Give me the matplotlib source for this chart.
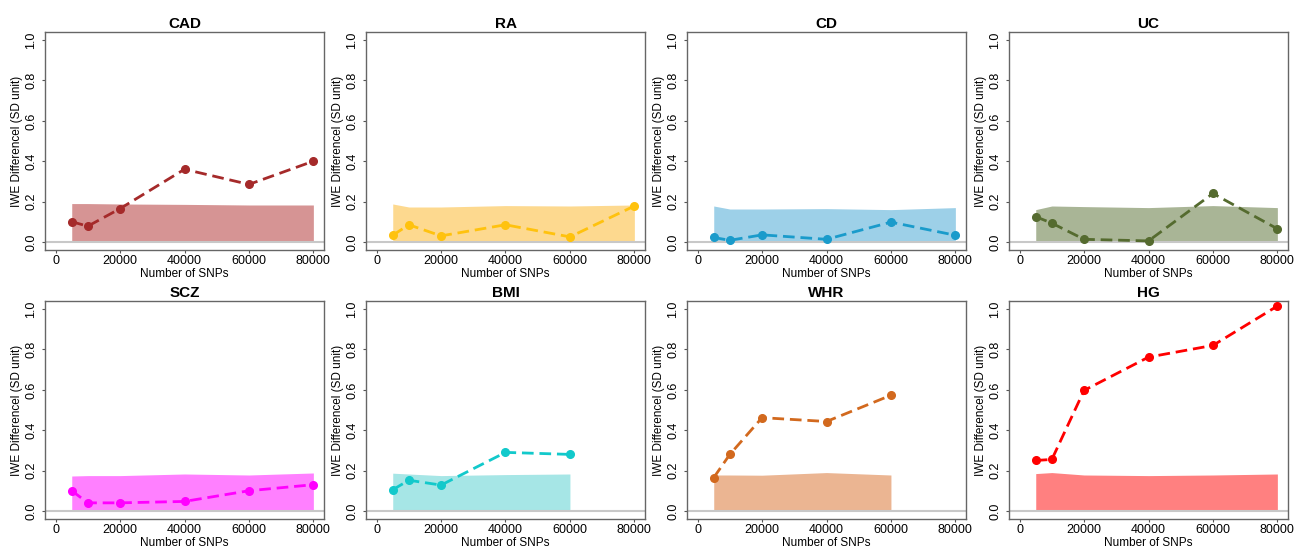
import matplotlib
matplotlib.use('Agg')
import matplotlib.pyplot as plt

plt.rcParams['font.family'] = ['Liberation Sans', 'DejaVu Sans']

# Panel names and colours (line colour, band colour)
traits = ['CAD', 'RA', 'CD', 'UC', 'SCZ', 'BMI', 'WHR', 'HG']
line_colors = ['#A52A2A', '#FFC20E', '#1A9BCB', '#556B2F',
               '#FF00FF', '#12C9CB', '#D2691E', '#FF0000']
band_colors = ['#D69494', '#FDD98F', '#9DD0E8', '#A9B596',
               '#FF80FF', '#A6E6E6', '#EBB592', '#FF8080']

snps_full = [5000, 10000, 20000, 40000, 60000, 80000]
snps_short = [5000, 10000, 20000, 40000, 60000]

# IWE difference (dashed line) per trait
cad = [0.10, 0.078, 0.165, 0.36, 0.285, 0.40]
ra = [0.033, 0.085, 0.030, 0.085, 0.025, 0.178]
cd = [0.022, 0.008, 0.035, 0.013, 0.098, 0.033]
uc = [0.125, 0.093, 0.013, 0.005, 0.24, 0.065]
scz = [0.10, 0.040, 0.040, 0.047, 0.10, 0.13]
bmi = [0.105, 0.152, 0.128, 0.29, 0.28]
whr = [0.165, 0.28, 0.462, 0.443, 0.573]
hg = [0.25, 0.255, 0.597, 0.762, 0.82, 1.015]

# Upper edge of the shaded null band per trait
cad_band = [0.190, 0.190, 0.188, 0.186, 0.183, 0.183]
ra_band = [0.188, 0.173, 0.173, 0.180, 0.178, 0.183]
cd_band = [0.178, 0.163, 0.163, 0.165, 0.160, 0.170]
uc_band = [0.160, 0.178, 0.175, 0.170, 0.180, 0.170]
scz_band = [0.173, 0.175, 0.175, 0.183, 0.178, 0.188]
bmi_band = [0.187, 0.183, 0.175, 0.180, 0.183]
whr_band = [0.178, 0.178, 0.177, 0.190, 0.178]
hg_band = [0.185, 0.190, 0.178, 0.175, 0.178, 0.183]

values = [cad, ra, cd, uc, scz, bmi, whr, hg]
bands = [cad_band, ra_band, cd_band, uc_band, scz_band, bmi_band, whr_band, hg_band]

fig = plt.figure(figsize=(13, 5.49), dpi=100)

lefts = [45, 366, 687, 1009]
width = 279
rows = [(32, 250), (301, 519)]  # (top, bottom) in pixels

for i, name in enumerate(traits):
    r, c = divmod(i, 4)
    top, bot = rows[r]
    ax = fig.add_axes([lefts[c] / 1300, 1 - bot / 549, width / 1300, (bot - top) / 549])

    y = values[i]
    band = bands[i]
    x = snps_full if len(y) == 6 else snps_short

    ax.fill_between(x, 0, band, color=band_colors[i], linewidth=0, zorder=1)
    ax.axhline(0, color='#C8C8C8', lw=1.5, zorder=2)
    ax.plot(x, y, color=line_colors[i], lw=2, linestyle=(0, (4.2, 2.1)),
            marker='o', markersize=5.5, zorder=3)

    ax.set_xlim(-3300, 83300)
    ax.set_ylim(-0.04, 1.04)
    ax.set_xticks([0, 20000, 40000, 60000, 80000])
    ax.set_xticklabels(['0', '20000', '40000', '60000', '80000'])
    ax.set_yticks([0.0, 0.2, 0.4, 0.6, 0.8, 1.0])
    ax.set_yticklabels(['0.0', '0.2', '0.4', '0.6', '0.8', '1.0'],
                       rotation=90, va='center')
    ax.tick_params(labelsize=9, length=2, color='#555555')
    ax.tick_params(axis='x', pad=1.5)
    ax.tick_params(axis='y', pad=3.5)

    for s in ax.spines.values():
        s.set_color('#666666')
        s.set_linewidth(1)

    ax.set_title(name, fontsize=11, fontweight='bold', pad=3)
    ax.set_xlabel('Number of SNPs', fontsize=8.5, labelpad=1)
    ax.set_ylabel('IWE Differencel (SD unit)', fontsize=8.5, labelpad=2)

fig.savefig('out.png', dpi=100)
